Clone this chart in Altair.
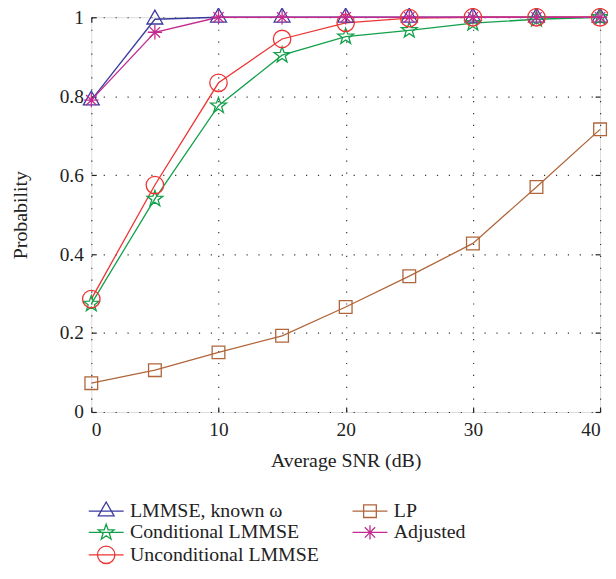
import altair as alt
import pandas as pd
import math

snr = [0, 5, 10, 15, 20, 25, 30, 35, 40]
series_names = ["LMMSE, known ω", "Conditional LMMSE", "Unconditional LMMSE", "LP", "Adjusted"]
lmmse_known = [0.79, 0.995, 1.0, 1.0, 1.0, 1.0, 1.0, 1.0, 1.0]
conditional = [0.274, 0.54, 0.776, 0.904, 0.951, 0.967, 0.985, 0.995, 1.0]
unconditional = [0.286, 0.575, 0.834, 0.945, 0.986, 0.998, 1.0, 1.0, 1.0]
lp = [0.073, 0.106, 0.151, 0.193, 0.266, 0.344, 0.427, 0.570, 0.716]
adjusted = [0.79, 0.962, 1.0, 1.0, 1.0, 1.0, 1.0, 1.0, 1.0]
colors = ["#3a3a9e", "#12a04a", "#ee3333", "#b0653a", "#c42a90"]
x_ticks = [0, 10, 20, 30, 40]
y_ticks = [0, 0.2, 0.4, 0.6, 0.8, 1.0]

values = [lmmse_known, conditional, unconditional, lp, adjusted]
rows = []
for name, vals in zip(series_names, values):
    for s, v in zip(snr, vals):
        rows.append({"snr": s, "p": v, "series": name})
df = pd.DataFrame(rows)

# marker paths (unit radius), with optional offset and legend line
def star(dx=0.0):
    pts = []
    for k in range(10):
        a = math.radians(-90 + 36 * k)
        r = 1.05 if k % 2 == 0 else 0.42
        pts.append((dx + r * math.cos(a), r * math.sin(a)))
    return "M" + "L".join(f"{x:.3f},{y:.3f}" for x, y in pts) + "Z"

def tri(dx=0.0):
    return f"M{dx:.2f},-1.15L{dx+1:.2f},0.6L{dx-1:.2f},0.6Z"

def circ(dx=0.0, r=1.1):
    return f"M{dx+r:.2f},0A{r},{r},0,1,1,{dx-r:.2f},0A{r},{r},0,1,1,{dx+r:.2f},0Z"

def sq(dx=0.0, h=0.8):
    return f"M{dx-h:.2f},{-h}H{dx+h:.2f}V{h}H{dx-h:.2f}Z"

def ast(dx=0.0, r=0.9):
    d = r * 0.72
    return (f"M{dx:.2f},{-r}V{r}M{dx-r:.2f},0H{dx+r:.2f}"
            f"M{dx-d:.2f},{-d:.2f}L{dx+d:.2f},{d:.2f}M{dx-d:.2f},{d:.2f}L{dx+d:.2f},{-d:.2f}")

plot_shapes = [tri(), star(), circ(), sq(), ast()]
line = "M-1.2,0H3.2"
legend_shapes = [line + tri(1.0), line + star(1.0), line + circ(1.0), line + sq(1.0), line + ast(1.0)]

FONT = "Liberation Serif"
TXT = "#222222"
LBL = 19.5
TTL = 20
INWARD = alt.ExprRef(expr="-5")

x_scale = alt.Scale(domain=[0, 40], nice=False)
y_scale = alt.Scale(domain=[0, 1], nice=False)
grid_kw = dict(gridColor="#333333", gridDash=[1.2, 10.8], gridWidth=1.2)
tick_kw = dict(ticks=True, tickSize=INWARD, tickColor="#222222", tickWidth=1.2, domain=False)

x_main = alt.X("snr:Q", title="Average SNR (dB)", scale=x_scale,
               axis=alt.Axis(values=x_ticks, grid=True, orient="bottom",
                             labelFont=FONT, labelFontSize=LBL, labelColor=TXT, labelPadding=14,
                             titleFont=FONT, titleFontSize=TTL, titleFontWeight="normal",
                             titleColor=TXT, titlePadding=11, **grid_kw, **tick_kw))
y_main = alt.Y("p:Q", title="Probability", scale=y_scale,
               axis=alt.Axis(values=y_ticks, format="~g", grid=True, orient="left",
                             labelFont=FONT, labelFontSize=LBL, labelColor=TXT, labelPadding=13,
                             titleFont=FONT, titleFontSize=TTL, titleFontWeight="normal",
                             titleColor=TXT, titlePadding=29, **grid_kw, **tick_kw))
x_top = alt.X("snr:Q", title=None, scale=x_scale,
              axis=alt.Axis(values=x_ticks, grid=False, labels=False, orient="top", **tick_kw))
y_right = alt.Y("p:Q", title=None, scale=y_scale,
                axis=alt.Axis(values=y_ticks, grid=False, labels=False, orient="right", **tick_kw))

color_scale = alt.Scale(domain=series_names, range=colors)

base = alt.Chart(df)

lines = base.mark_line(strokeWidth=1.3).encode(
    x=x_main, y=y_main,
    color=alt.Color("series:N", scale=color_scale, legend=None),
)

points = base.mark_point(filled=False, size=256, strokeWidth=1.3, opacity=1).encode(
    x=x_top, y=y_right,
    color=alt.Color("series:N", scale=color_scale, legend=None),
    shape=alt.Shape("series:N", scale=alt.Scale(domain=series_names, range=plot_shapes), legend=None),
)

leg = alt.Legend(title=None, orient="none", legendX=-3, legendY=488, columns=2,
                 symbolSize=256, symbolStrokeWidth=1.3, symbolOpacity=1,
                 labelFont=FONT, labelFontSize=20, labelColor=TXT, labelOffset=22,
                 labelLimit=0, rowPadding=0.5, columnPadding=30)

legend_layer = base.mark_point(filled=False, size=256, strokeWidth=1.3, opacity=0, clip=True).encode(
    x=alt.X("snr:Q", scale=x_scale, axis=None),
    y=alt.Y("p:Q", scale=y_scale, axis=None),
    color=alt.Color("series:N", scale=alt.Scale(domain=series_names, range=colors), legend=leg),
    shape=alt.Shape("series:N", scale=alt.Scale(domain=series_names, range=legend_shapes), legend=leg),
)

chart = alt.layer(lines, points, legend_layer).resolve_scale(
    color="independent", shape="independent"
).resolve_axis(
    x="independent", y="independent"
).properties(
    width=513, height=398,
    autosize=alt.AutoSizeParams(type="none"),
    padding={"left": 84, "top": 7, "right": 8, "bottom": 157},
).configure_view(
    stroke="#333333", strokeWidth=1.3
).configure_legend(
    labelFont=FONT, labelFontSize=20, labelColor=TXT
).configure_axis(
    labelFont=FONT, titleFont=FONT
).configure(background="white")

chart.save("out.html", embed_options={"renderer": "svg", "actions": False})
